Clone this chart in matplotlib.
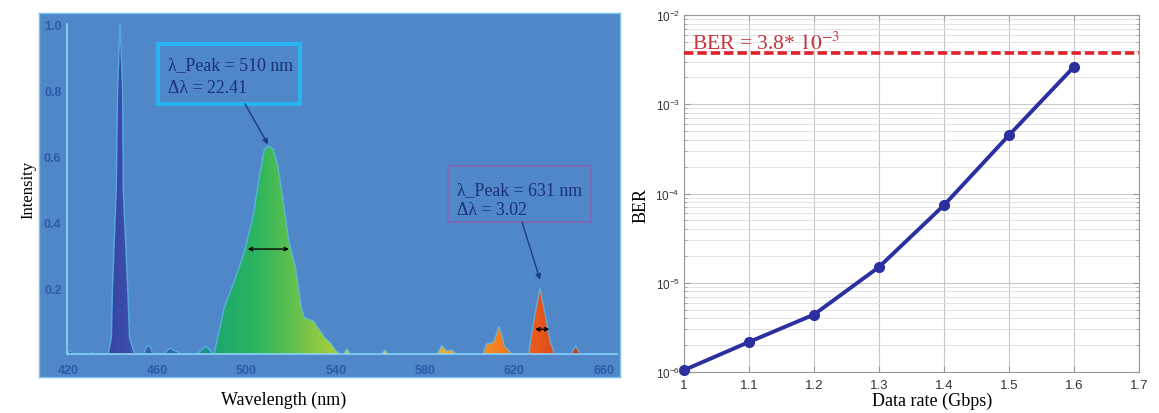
import numpy as np
import matplotlib
matplotlib.use("Agg")
import matplotlib.pyplot as plt
from matplotlib.colors import LinearSegmentedColormap
from matplotlib.patches import Rectangle
from matplotlib.ticker import LogLocator, FixedLocator, FuncFormatter

# ---- data: emission spectrum ----
wavelength = [420, 421, 422, 430, 431, 432, 438, 439.4, 439.9, 441.6, 442.2, 443.3,
              444.4, 444.7, 446.7, 447.5, 449.7, 454, 455, 456, 457, 458, 463, 464.5,
              466, 467.5, 469, 470.5, 478, 480, 482, 484, 485.5,
              487, 490, 495, 499, 503, 506, 508, 510, 512, 514, 516, 519, 522, 524.5,
              526, 530, 532, 535, 538, 540, 542,
              543.5, 545, 546.5, 560.5, 562, 563.5, 585.5, 587.5, 589.5, 592, 594,
              606, 607.5, 610.5, 612, 613, 614.3, 615.5, 617.5, 619,
              626.5, 627.5, 629.5, 631.5, 633.5, 636, 638, 645.5, 647.5, 649.5, 666]
intensity = [0.0, 0.012, 0.0, 0.0, 0.005, 0.0, 0.0, 0.05, 0.2, 0.5, 0.8, 1.0,
             0.8, 0.5, 0.2, 0.05, 0.0, 0.0, 0.02, 0.026, 0.018, 0.0, 0.0, 0.012,
             0.018, 0.01, 0.008, 0.0, 0.0, 0.015, 0.023, 0.008, 0.0,
             0.05, 0.14, 0.23, 0.31, 0.42, 0.55, 0.62, 0.63, 0.62, 0.57, 0.48, 0.34, 0.26, 0.14,
             0.11, 0.10, 0.08, 0.05, 0.03, 0.01, 0.0,
             0.0, 0.015, 0.0, 0.0, 0.012, 0.0, 0.0, 0.026, 0.01, 0.012, 0.0,
             0.0, 0.03, 0.035, 0.06, 0.084, 0.06, 0.025, 0.01, 0.0,
             0.0, 0.05, 0.13, 0.2, 0.13, 0.04, 0.0, 0.0, 0.025, 0.0, 0.0]
peak_labels = [("λ_Peak = 510 nm", "Δλ = 22.41"), ("λ_Peak = 631 nm", "Δλ = 3.02")]
peak_pos = [(509.6, 0.635), (631.5, 0.225)]
fwhm_green = (500.5, 519.0, 0.318)
fwhm_red = (629.3, 635.7, 0.075)
wl_ticks = [420, 460, 500, 540, 580, 620, 660]
int_ticks = [0.2, 0.4, 0.6, 0.8, 1.0]

# ---- data: BER vs data rate ----
data_rate = [1.0, 1.1, 1.2, 1.3, 1.4, 1.5, 1.6]
ber = [1.05e-6, 2.17e-6, 4.4e-6, 1.5e-5, 7.4e-5, 4.5e-4, 2.63e-3]
ber_limit = 3.8e-3
rate_ticks = [1, 1.1, 1.2, 1.3, 1.4, 1.5, 1.6, 1.7]

# ---- styles ----
bg_blue = "#4f87c9"
tick_blue = "#2d5aa8"
spine_cyan = "#8fd3f7"
navy = "#1c2f78"
serif = ["Liberation Serif", "DejaVu Serif"]
sans = ["Liberation Sans", "DejaVu Sans"]
plt.rcParams["mathtext.fontset"] = "stix"

W, H = 1159, 414
fig = plt.figure(figsize=(W / 100, H / 100), dpi=100)
fig.patch.set_facecolor("white")

def fx(px):
    return px / W

def fy(py):
    return 1 - py / H

# blue frame behind the spectrum (its own axes, kept underneath)
bg = fig.add_axes([fx(39), fy(378), fx(620 - 39), (378 - 14) / H], zorder=0)
bg.set_facecolor(bg_blue)
bg.set_xticks([])
bg.set_yticks([])
for sp in bg.spines.values():
    sp.set_color("#7cc0ee")
    sp.set_linewidth(1.0)

# ---------------- left: spectrum ----------------
ax = fig.add_axes([fx(67), fy(355), fx(617 - 67), (355 - 25) / H], zorder=1)
ax.set_facecolor("none")
xmin, xmax = 419.5, 666

anchors = [(420, "#27318a"), (444, "#3b4ba7"), (456, "#3a58b0"), (470, "#2f70ae"),
           (482, "#23908a"), (488, "#1fa86c"), (505, "#2db55e"), (520, "#5fbf4e"),
           (535, "#9acb3e"), (550, "#c0d33a"), (565, "#d8cc3e"), (588, "#e8ae30"),
           (605, "#f39220"), (615, "#f27c20"), (631, "#e8561c"), (650, "#c83a22"),
           (666, "#b03020")]
cmap = LinearSegmentedColormap.from_list(
    "spec", [((w - 420) / (666 - 420), c) for w, c in anchors])
grad = np.linspace(420, 666, 600)[None, :]
poly = ax.fill_between(wavelength, 0, intensity, facecolor="none", edgecolor="none")
im = ax.imshow(grad, extent=[420, 666, 0, 1.0], aspect="auto", cmap=cmap,
               vmin=420, vmax=666, origin="lower", zorder=2)
im.set_clip_path(poly.get_paths()[0], transform=ax.transData)
ax.set_xlim(xmin, xmax)
ax.set_ylim(0, 1.0)
ax.plot(wavelength, intensity, color="#5cc3f0", lw=1.0, alpha=0.7, zorder=3)

for sp in ["top", "right"]:
    ax.spines[sp].set_visible(False)
for sp in ["left", "bottom"]:
    ax.spines[sp].set_color(spine_cyan)
    ax.spines[sp].set_linewidth(1.2)
ax.set_xticks(wl_ticks)
ax.set_yticks(int_ticks)
ax.set_yticklabels([f"{v:.1f}" for v in int_ticks])
ax.tick_params(length=0, colors=tick_blue, labelsize=9)
ax.tick_params(axis="x", pad=7)
ax.tick_params(axis="y", pad=4)
for lab in ax.get_xticklabels() + ax.get_yticklabels():
    lab.set_fontfamily(sans)
    lab.set_fontweight("bold")
ax.set_xlabel("Wavelength (nm)", family=serif, fontsize=13)
ax.xaxis.set_label_coords(0.393, -0.112)
ax.set_ylabel("Intensity", family=serif, fontsize=12)
ax.yaxis.set_label_coords(-0.056, 0.5)

# FWHM markers
for x0, x1, yv in [fwhm_green, fwhm_red]:
    ax.annotate("", xy=(x0, yv), xytext=(x1, yv),
                arrowprops=dict(arrowstyle="<->", color="black", lw=1.0,
                                mutation_scale=6, shrinkA=0, shrinkB=0), zorder=5)

# annotation boxes: (corner, width, height, edge colour, edge width, text x, line baselines, arrow tail)
boxes = [((0.1655, 0.758), 0.4236 - 0.1655, 0.939 - 0.758, "#2ab4ef", 3.0,
          0.1836, (0.8636, 0.794), (0.3236, 0.758)),
         ((0.6927, 0.40), 0.9527 - 0.6927, 0.5697 - 0.40, "#8566b3", 1.2,
          0.709, (0.485, 0.424), (0.8273, 0.40))]
for (xy, w, h, ec, lw, tx, tys, apos), lines, target in zip(boxes, peak_labels, peak_pos):
    ax.add_patch(Rectangle(xy, w, h, transform=ax.transAxes, facecolor="none",
                           edgecolor=ec, lw=lw, zorder=4, clip_on=False))
    for line, ty in zip(lines, tys):
        ax.text(tx, ty, line, transform=ax.transAxes, family=serif,
                fontsize=12.8, color=navy, va="baseline", ha="left", zorder=5)
    ax.annotate("", xy=target, xycoords="data", xytext=apos,
                textcoords="axes fraction",
                arrowprops=dict(arrowstyle="-|>", color="#1d3a8a", lw=1.0,
                                mutation_scale=8, shrinkA=0, shrinkB=0), zorder=5)

# ---------------- right: BER ----------------
ax2 = fig.add_axes([fx(684), fy(373), fx(1139 - 684), (373 - 16) / H])
ax2.set_yscale("log")
ax2.set_xlim(1, 1.7)
ax2.set_ylim(1e-6, 1e-2)
ax2.xaxis.set_major_locator(FixedLocator(rate_ticks))
ax2.xaxis.set_major_formatter(FuncFormatter(lambda v, p: f"{v:g}"))
ax2.yaxis.set_major_locator(LogLocator(base=10, numticks=10))
ax2.yaxis.set_minor_locator(LogLocator(base=10, subs=np.arange(2, 10), numticks=10))
ax2.grid(True, which="major", color="#c8c8c8", lw=0.8)
ax2.grid(True, which="minor", color="#dedede", lw=0.6)
ax2.set_axisbelow(True)
for sp in ax2.spines.values():
    sp.set_color("#9a9a9a")
    sp.set_linewidth(0.8)
ax2.tick_params(which="both", direction="in", colors="#9a9a9a", labelcolor="#333333",
                top=True, right=True)
ax2.tick_params(which="major", length=4)
ax2.tick_params(which="minor", length=2)
ax2.tick_params(axis="x", labelsize=9.5, pad=5)
ax2.tick_params(axis="y", labelsize=8.5, pad=3)
for lab in ax2.get_xticklabels() + ax2.get_yticklabels():
    lab.set_fontfamily(sans)

ax2.axhline(ber_limit, color="#e0202a", lw=2.6, ls=(0, (2.6, 1.1)), zorder=3)
ax2.plot(data_rate, ber, "-o", color="#2b2f9f", lw=2.8, ms=7, zorder=4, clip_on=False)
ax2.text(0.0176, 0.905, "BER = 3.8* $10^{-3}$", transform=ax2.transAxes,
         family=serif, fontsize=15.5, color="#c8323c", va="baseline", ha="left", zorder=5)

ax2.set_xlabel("Data rate (Gbps)", family=serif, fontsize=13)
ax2.xaxis.set_label_coords(0.545, -0.055)
ax2.set_ylabel("BER", family=serif, fontsize=13)
ax2.yaxis.set_label_coords(-0.075, 0.47)

fig.savefig("out.png", dpi=100, facecolor="white")
